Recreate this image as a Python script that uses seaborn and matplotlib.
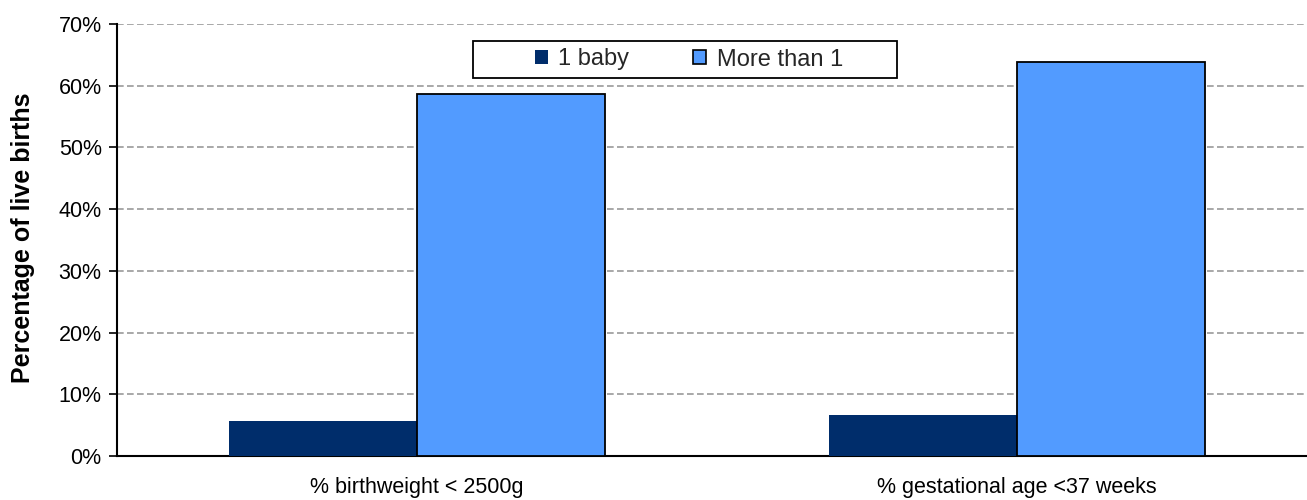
import matplotlib
matplotlib.use("Agg")
import matplotlib.pyplot as plt
import seaborn as sns
import pandas as pd
from matplotlib.ticker import FixedLocator, FuncFormatter
from matplotlib.patches import Patch, Rectangle

# Data
categories = ["% birthweight < 2500g", "% gestational age <37 weeks"]
series_names = ["1 baby", "More than 1"]
one_baby = [5.6, 6.6]
more_than_one = [58.6, 63.8]
y_ticks = [0, 10, 20, 30, 40, 50, 60, 70]

df = pd.DataFrame({
    "category": categories * 2,
    "group": [series_names[0]] * 2 + [series_names[1]] * 2,
    "value": one_baby + more_than_one,
})

sns.set_theme(style="white")
plt.rcParams["font.family"] = ["Liberation Sans", "DejaVu Sans"]

colors = {"1 baby": "#002D6B", "More than 1": "#529BFF"}

W, H = 1307, 500
fig = plt.figure(figsize=(W / 100, H / 100), dpi=100)
ax = fig.add_axes([117 / W, 1 - 456 / H, 1200 / W, (456 - 24) / H])

sns.barplot(data=df, x="category", y="value", hue="group", order=categories,
            hue_order=series_names, palette=colors, width=0.627, ax=ax,
            saturation=1, errorbar=None, legend=False, zorder=3)

# Edges: the light series gets a black outline
for patch, name in zip(ax.patches, [series_names[0]] * 2 + [series_names[1]] * 2):
    if name == "More than 1":
        patch.set_edgecolor("black")
        patch.set_linewidth(1.3)
    else:
        patch.set_edgecolor(colors[name])
        patch.set_linewidth(0)

ax.set_xlim(-0.5, 1.5)
ax.set_ylim(0, 70)
ax.yaxis.set_major_locator(FixedLocator(y_ticks))
ax.yaxis.set_major_formatter(FuncFormatter(lambda v, p: f"{v:.0f}%"))
ax.yaxis.grid(True, linestyle=(0, (4, 2)), color="#999999", linewidth=1.2, zorder=0)
ax.set_axisbelow(True)

# Category labels centred, tick marks on category boundaries
ax.set_xticks([0, 1])
ax.set_xticklabels(categories)
ax.set_xticks([-0.5, 0.5, 1.5], minor=True)
ax.tick_params(axis="x", which="major", length=0, labelsize=15.5, pad=15, colors="black")
ax.tick_params(axis="x", which="minor", length=6, width=1.2, direction="out", color="black")
ax.tick_params(axis="y", length=6, width=1.2, direction="out", color="black",
               labelsize=15.5, pad=5, left=True)
for lbl in ax.get_xticklabels() + ax.get_yticklabels():
    lbl.set_color("black")

for s in ["top", "right"]:
    ax.spines[s].set_visible(False)
for s in ["left", "bottom"]:
    ax.spines[s].set_visible(True)
    ax.spines[s].set_color("black")
    ax.spines[s].set_linewidth(1.5)

ax.set_xlabel("")
ax.set_ylabel("Percentage of live births", fontsize=18, fontweight="bold", color="black")
ax.yaxis.set_label_coords((35 - 117) / 1200, 0.505)

# Legend: entries without their own frame, inside a wide box
fig.add_artist(Rectangle((473 / W, 1 - 78 / H), (897 - 473) / W, 37 / H,
                         transform=fig.transFigure, facecolor="white",
                         edgecolor="black", linewidth=1.3, zorder=5))
handles = [Patch(facecolor=colors["1 baby"], edgecolor=colors["1 baby"], linewidth=0),
           Patch(facecolor=colors["More than 1"], edgecolor="black", linewidth=1.2)]
leg = fig.legend(handles, series_names, loc="center", bbox_to_anchor=(689 / W, 1 - 59.5 / H),
                 ncol=2, fontsize=17, frameon=False,
                 handlelength=0.55, handleheight=0.5, handletextpad=0.45, columnspacing=2.7,
                 borderpad=0, borderaxespad=0)
leg.set_zorder(6)

fig.savefig("out.png", dpi=100)
